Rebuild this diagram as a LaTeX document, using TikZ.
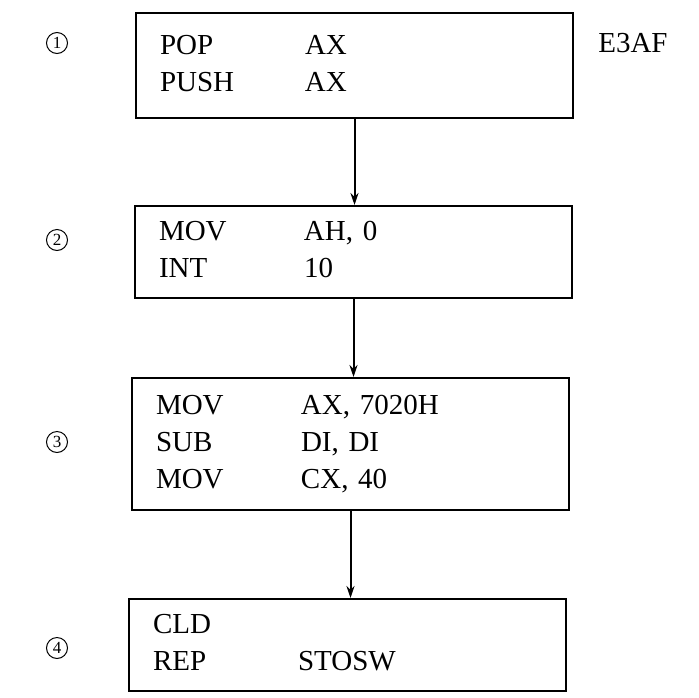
\documentclass[tikz,border=0pt]{standalone}
\usepackage{fontspec}
\setmainfont{Liberation Serif}
\usetikzlibrary{positioning,arrows.meta}

\begin{document}
\begin{tikzpicture}[x=1pt, y=-1pt, >={Stealth[length=12pt,width=8pt]}, line width=2pt,
  block/.style={draw=black, rectangle, anchor=north west, minimum width=437pt,
    text width=389pt, inner xsep=24pt, align=left, font=\fontsize{29}{37}\selectfont},
  num/.style={circle, draw=black, line width=1pt, inner sep=0pt, minimum size=21pt,
    font=\fontsize{17}{17}\selectfont}]

\useasboundingbox (0,0) rectangle (699,697);

% Blocks
\node[block, minimum height=105pt] (B1) at (135,12)
  {\begin{tabular}{@{}p{145pt}@{}l@{}}POP & AX\\ PUSH & AX\end{tabular}};
\node[block, minimum height=92pt] (B2) at (134,205)
  {\begin{tabular}{@{}p{145pt}@{}l@{}}MOV & AH, 0\\ INT & 10\end{tabular}};
\node[block, minimum height=132pt] (B3) at (131,377)
  {\begin{tabular}{@{}p{145pt}@{}l@{}}MOV & AX, 7020H\\ SUB & DI, DI\\ MOV & CX, 40\end{tabular}};
\node[block, minimum height=92pt] (B4) at (128,598)
  {\begin{tabular}{@{}p{145pt}@{}l@{}}CLD & \\ REP & STOSW\end{tabular}};

% Step numbers
\node[num] (N1) at (57,43) {1};
\node[num] (N2) at (57,240) {2};
\node[num] (N3) at (57,442) {3};
\node[num] (N4) at (57,648) {4};

% Address
\node[font=\fontsize{29}{29}\selectfont, anchor=west] (addr) at (594,43) {E3AF};

% Connections
\draw[->] (B1.south) -- (B1.south |- B2.north);
\draw[->] (B2.south) -- (B2.south |- B3.north);
\draw[->] (B3.south) -- (B3.south |- B4.north);

\end{tikzpicture}
\end{document}
